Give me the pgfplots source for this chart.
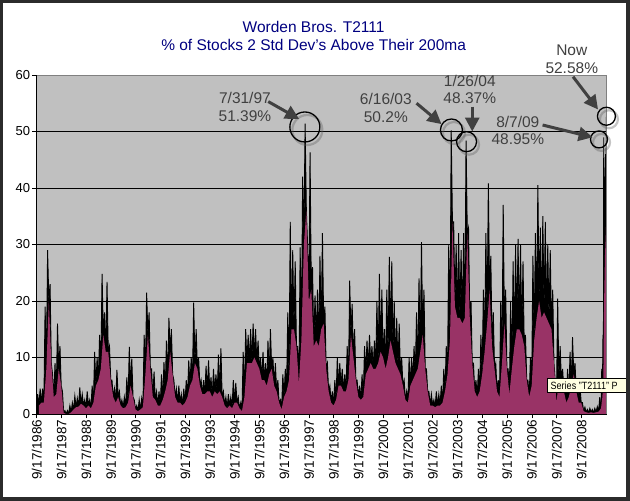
\documentclass[border=0pt]{standalone}
\usepackage{fontspec}
\setmainfont{Liberation Sans}
\usepackage{pgfplots}
\pgfplotsset{compat=1.18}
\usepackage{pgfplotstable}
\usetikzlibrary{arrows.meta}
\definecolor{framecol}{HTML}{2B2B2B}
\definecolor{plotbg}{HTML}{C0C0C0}
\definecolor{areacol}{HTML}{993366}
\definecolor{titlecol}{HTML}{000080}
\definecolor{annot}{HTML}{404040}
\definecolor{bordergray}{HTML}{808080}
\definecolor{tipbg}{HTML}{FFFFE1}

% T2111, read every 0.05 year from 9/1986: alternately the spike top (hi) and the body level (lo)
\pgfplotstableread[row sep=\\]{
v\\
3.5\\1.5\\ 4.5\\2\\ 4.5\\2\\ 19\\8\\ 29\\20\\ 23\\9\\ 7\\3\\ 9\\3.5\\ 16\\8\\ 12\\5\\
4\\0.2\\ 0.6\\0\\ 0.6\\0\\ 1.5\\0.3\\ 2\\0.8\\ 3.2\\1.2\\ 2.8\\1.3\\ 4.7\\1.8\\ 3.5\\1.5\\ 2.5\\1\\
4\\1.5\\ 2.5\\1\\ 5\\2\\ 11\\5\\ 10\\6\\ 14\\8\\ 24.8\\14\\ 18\\11\\ 23.4\\11\\ 12\\6\\
6\\3\\ 4.5\\2\\ 7.8\\3\\ 4\\1.5\\ 2.5\\1\\ 3\\1.2\\ 6.5\\2\\ 11.9\\5\\ 9.8\\3\\ 2.5\\0.8\\
1.5\\0.5\\ 2.5\\0.8\\ 2.8\\1.2\\ 14\\7\\ 21.5\\14\\ 18\\8\\ 8\\3\\ 7.5\\2.5\\ 4\\1.5\\ 4\\1.5\\
7\\2.5\\ 9.2\\4\\ 13\\6\\ 17\\11\\ 15\\7\\ 6\\3\\ 4.5\\2\\ 5\\2\\ 3.5\\1.5\\ 4.5\\2\\
6\\3\\ 9.5\\5\\ 10\\6\\ 19.7\\9\\ 15\\8\\ 10\\5\\ 6\\3.5\\ 6\\3.5\\ 8.5\\4\\ 9.5\\4\\
6.5\\3\\ 8\\4\\ 7\\3.5\\ 10.5\\4\\ 11.6\\3\\ 4\\1.5\\ 3\\1\\ 3.5\\1.5\\ 3\\1\\ 6\\2\\
5.5\\2\\ 3\\1\\ 2\\0.5\\ 11\\3\\ 15\\9\\ 14\\9\\ 15\\9\\ 16\\10\\ 15\\9\\ 13\\8\\
10\\6\\ 11\\6\\ 9\\5\\ 13\\7\\ 15\\8\\ 10\\5\\ 9\\4\\ 6\\2\\ 2.5\\0.8\\ 7\\3\\
8\\4\\ 18\\6\\ 34\\15\\ 29\\15\\ 27\\12\\ 12\\5.4\\ 29.5\\13\\ 42\\30\\ 51.39\\36\\ 30\\20\\
46.3\\22\\ 26\\12\\ 21\\13\\ 22\\12\\ 28\\15\\ 32\\16\\ 19\\8\\ 9\\4\\ 5\\2\\ 4\\1.5\\
6\\2.5\\ 10\\5\\ 9\\5\\ 8\\4\\ 7\\4\\ 12\\6\\ 23.6\\14\\ 19.5\\10\\ 15\\6\\ 6\\3\\
5\\2.5\\ 7\\3\\ 12\\7\\ 13\\8\\ 14\\9\\ 12\\8\\ 13\\8\\ 20\\9\\ 24.8\\11\\ 22\\10\\
15\\8\\ 22\\10\\ 27.8\\13\\ 27\\11\\ 20\\9\\ 17\\8\\ 16\\7\\ 10\\5\\ 6\\2.5\\ 4\\2\\
10\\5\\ 10\\6\\ 12\\7\\ 18\\8\\ 24\\11\\ 30.4\\14\\ 22\\8\\ 8\\4\\ 4\\1.5\\ 3.5\\1.5\\
2.5\\1.2\\ 4\\1.5\\ 3.5\\1.5\\ 5\\2\\ 8\\4\\ 12\\7\\ 30\\13\\ 50.2\\34\\ 34\\19\\ 30\\17\\
32\\17\\ 29\\16\\ 32\\17\\ 48.37\\32\\ 33\\17\\ 20\\9\\ 9\\4\\ 6\\3\\ 8\\4\\ 14\\7\\
22\\11\\ 32\\16\\ 40.8\\22\\ 28\\12\\ 18\\8\\ 9\\4\\ 6\\3\\ 20\\9\\ 37\\16\\ 22\\8\\
8\\3.5\\ 20\\8\\ 27\\12\\ 30\\15\\ 31\\15\\ 30\\14\\ 27\\12\\ 14\\6\\ 6\\3\\ 10\\5\\
28\\13\\ 32\\17\\ 40.5\\20\\ 33\\17\\ 35\\18\\ 34\\17\\ 30\\16\\ 29\\15\\ 22\\9\\ 6\\2\\
20.4\\6\\ 12\\6\\ 8\\4\\ 6\\2\\ 8\\3\\ 11\\5\\ 13.6\\7\\ 9\\4\\ 5\\2\\ 5\\2\\
2\\0.5\\ 1.2\\0.3\\ 0.8\\0.2\\ 1\\0.3\\ 0.8\\0.2\\ 1\\0.3\\ 1.3\\0.4\\ 3\\1\\
}\datatable

\begin{document}
\begin{tikzpicture}[x=1pt,y=1pt]
\useasboundingbox (0,0) rectangle (630,501);
\fill[white] (0,0) rectangle (630,501);

\node[font=\fontsize{15.5}{17.7}\selectfont, text=titlecol, align=center] at (313.6,464.8)
  {Worden Bros. T2111\\\% of Stocks 2 Std Dev's Above Their 200ma};

\begin{axis}[
  at={(36.7pt,87pt)}, anchor=south west,
  scale only axis, width=570pt, height=339pt,
  xmin=1986.71, xmax=2009.73, ymin=0, ymax=60,
  axis background/.style={fill=plotbg},
  axis line style={draw=none},
  tick align=outside, tick pos=left,
  major tick length=4.5pt,
  tick style={black, line width=0.8pt},
  ymajorgrids, grid style={black, line width=0.8pt},
  ytick={0,10,20,30,40,50,60},
  xtick={1986.71,1987.71,1988.71,1989.71,1990.71,1991.71,1992.71,1993.71,1994.71,1995.71,1996.71,1997.71,1998.71,1999.71,2000.71,2001.71,2002.71,2003.71,2004.71,2005.71,2006.71,2007.71,2008.71},
  xticklabels={9/17/1986,9/17/1987,9/17/1988,9/17/1989,9/17/1990,9/17/1991,9/17/1992,9/17/1993,9/17/1994,9/17/1995,9/17/1996,9/17/1997,9/17/1998,9/17/1999,9/17/2000,9/17/2001,9/17/2002,9/17/2003,9/17/2004,9/17/2005,9/17/2006,9/17/2007,9/17/2008},
  xticklabel style={rotate=90, anchor=east, inner sep=1pt, font=\fontsize{13.5}{14}\selectfont},
  yticklabel style={inner sep=2pt, font=\fontsize{13}{14}\selectfont},
  /pgf/number format/assume math mode=true,
  clip mode=individual,
]
% black spikes: the whole zigzag
\addplot[fill=black, draw=black, line width=0.9pt] table[x expr=1986.75+0.05*\coordindex, y=v]{\datatable} \closedcycle;
\addplot[fill=black, draw=black, line width=0.9pt] coordinates {
(2009.50,1) (2009.53,8) (2009.555,3) (2009.58,14) (2009.595,6) (2009.61,48.95) (2009.625,20) (2009.645,42) (2009.66,28) (2009.68,46) (2009.695,32) (2009.715,52.58) (2009.73,40)} \closedcycle;
% maroon body: the lower points of the zigzag only
\addplot[fill=areacol, draw=none, x filter/.code={\ifodd\coordindex\relax\else\def\pgfmathresult{}\fi}] table[x expr=1986.75+0.05*\coordindex, y=v]{\datatable} \closedcycle;
\addplot[fill=areacol, draw=none] coordinates {
(2009.50,1) (2009.555,3) (2009.595,6) (2009.625,20) (2009.66,28) (2009.695,32) (2009.73,38)} \closedcycle;

% plot area border
\draw[bordergray, line width=0.9pt] (rel axis cs:0,1) -- (rel axis cs:1,1) -- (rel axis cs:1,0);
\draw[black, line width=0.9pt] (rel axis cs:0,1) -- (rel axis cs:0,0) -- (rel axis cs:1,0);

% circles with shadows
\foreach \cx/\cy/\r in {1997.54/50.8/15, 2003.46/50.27/11, 2004.07/48.2/10, 2009.42/48.6/8.5, 2009.72/52.7/9}{
  \edef\tmp{\noexpand\draw[gray!70!black, line width=2.2pt, opacity=0.35] ([shift={(2.5pt,-3pt)}]axis cs:\cx,\cy) circle[radius=\r pt];}\tmp
  \edef\tmp{\noexpand\draw[black, line width=1.3pt] (axis cs:\cx,\cy) circle[radius=\r pt];}\tmp
}

% arrows
\begin{scope}[annot, line width=3pt, -{Triangle[length=14pt,width=14pt]}]
\draw (axis cs:1996.06,55.3) -- (axis cs:1997.31,52.2);
\draw (axis cs:2002.05,55.0) -- (axis cs:2003.06,51.3);
\draw (axis cs:2004.30,54.4) -- (axis cs:2004.30,50.0);
\draw (axis cs:2007.14,51.15) -- (axis cs:2009.16,48.97);
\draw (axis cs:2008.37,59.7) -- (axis cs:2009.38,53.9);
\end{scope}

% labels
\begin{scope}[every node/.style={text=annot, align=center, font=\fontsize{15.5}{17.8}\selectfont, inner sep=0pt}]
\node at (axis cs:1995.12,54.3) {7/31/97\\51.39\%};
\node at (axis cs:2000.81,54.1) {6/16/03\\50.2\%};
\node at (axis cs:2004.20,57.43) {1/26/04\\48.37\%};
\node at (axis cs:2006.14,50.18) {8/7/09\\48.95\%};
\node at (axis cs:2008.32,62.83) {Now\\52.58\%};
\end{scope}
\end{axis}

% tooltip
\fill[tipbg] (547.3,108.3) rectangle (632,122.7);
\draw[black, line width=0.6pt] (547.3,108.3) rectangle (632,122.7);
\node[anchor=west, inner sep=0pt, font=\fontsize{10.5}{12}\selectfont, xscale=0.86, transform shape] at (550.5,115.3) {Series "T2111" P};

% outer frame
\fill[framecol] (0,0) rectangle (3.3,501);
\fill[framecol] (626,0) rectangle (630,501);
\fill[framecol] (0,498.3) rectangle (630,501);
\fill[framecol] (0,0) rectangle (630,4.3);
\end{tikzpicture}
\end{document}
